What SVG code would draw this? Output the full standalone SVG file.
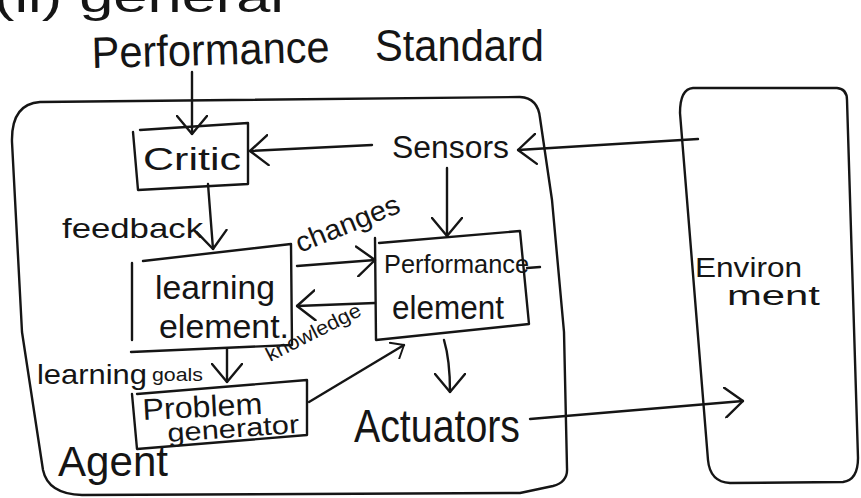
<svg xmlns="http://www.w3.org/2000/svg" width="861" height="498" viewBox="0 0 861 498">
  <style>
    .ink { fill: none; stroke: #151515; stroke-width: 2.4; stroke-linecap: round; stroke-linejoin: round; }
    .hw { font-family: "Liberation Sans", "DejaVu Sans", sans-serif; fill: #151515; }
  </style>
  <defs>
    <marker id="ah" viewBox="0 0 20 32" refX="19" refY="16" markerWidth="20" markerHeight="32" markerUnits="userSpaceOnUse" orient="auto">
      <path d="M1,1 L19,16 L1,31" fill="none" stroke="#151515" stroke-width="2.4" stroke-linecap="round" stroke-linejoin="round"/>
    </marker>
    <marker id="ah-s" viewBox="0 0 20 32" refX="19" refY="16" markerWidth="13" markerHeight="20" markerUnits="userSpaceOnUse" orient="auto">
      <path d="M1,1 L19,16 L1,31" fill="none" stroke="#151515" stroke-width="3" stroke-linecap="round" stroke-linejoin="round"/>
    </marker>
  </defs>
  <rect width="861" height="498" fill="#ffffff"/>

  <!-- heading, partly cut at the top edge -->
  <text class="hw" x="-6" y="12" font-size="42" textLength="290" lengthAdjust="spacingAndGlyphs">(ii) general</text>

  <g id="performance-standard">
    <text class="hw" x="92" y="68" font-size="44" textLength="238" lengthAdjust="spacingAndGlyphs" transform="rotate(-1.5 92 68)">Performance</text>
    <text class="hw" x="375" y="61" font-size="44" textLength="169" lengthAdjust="spacingAndGlyphs">Standard</text>
  </g>

  <g id="agent">
    <path class="ink" d="M40,102 L520,97 Q538,98 540,118 L552,200 L564,332 L567,468 Q568,482 553,486 L520,493 L82,495 Q48,494 43,470 L22,332 L12,142 Q11,104 40,102 Z"/>
    <text class="hw" x="58" y="476" font-size="42" textLength="110" lengthAdjust="spacingAndGlyphs">Agent</text>
  </g>

  <g id="environment">
    <path class="ink" d="M693,88 L837,88 Q847,89 847,100 L858,458 Q858,480 843,482 L730,483 Q710,482 708,460 L680,113 Q680,89 693,88 Z"/>
    <text class="hw" x="695" y="277" font-size="27" textLength="107" lengthAdjust="spacingAndGlyphs">Environ</text>
    <text class="hw" x="727" y="305" font-size="27" textLength="93" lengthAdjust="spacingAndGlyphs">ment</text>
  </g>

  <g id="critic">
    <path class="ink" d="M140,130 L248,123 L248,184 L138,190 L133,132"/>
    <text class="hw" x="143" y="170" font-size="32" textLength="98" lengthAdjust="spacingAndGlyphs">Critic</text>
  </g>

  <g id="sensors">
    <text class="hw" x="392" y="158" font-size="31" textLength="117" lengthAdjust="spacingAndGlyphs">Sensors</text>
  </g>

  <g id="learning-element">
    <path class="ink" d="M143,261 L291,244 L292,345 L131,352"/>
    <path class="ink" d="M132,263 L132,340"/>
    <text class="hw" x="155" y="299" font-size="34" textLength="120" lengthAdjust="spacingAndGlyphs">learning</text>
    <text class="hw" x="159" y="338" font-size="34" textLength="130" lengthAdjust="spacingAndGlyphs">element.</text>
  </g>

  <g id="performance-element">
    <path class="ink" d="M379,243 L520,231 L529,324 L376,340 L375,238"/>
    <text class="hw" x="384" y="273" font-size="26" textLength="145" lengthAdjust="spacingAndGlyphs">Performance</text>
    <path class="ink" d="M527,268 L540,267"/>
    <text class="hw" x="392" y="319" font-size="33" textLength="112" lengthAdjust="spacingAndGlyphs">element</text>
  </g>

  <g id="problem-generator">
    <path class="ink" d="M137,394 L307,380 L307,435 L137,449 L132,394"/>
    <text class="hw" x="143" y="420" font-size="30" textLength="120" lengthAdjust="spacingAndGlyphs" transform="rotate(-3 143 420)">Problem</text>
    <text class="hw" x="168" y="442" font-size="26" textLength="132" lengthAdjust="spacingAndGlyphs" transform="rotate(-4 168 442)">generator</text>
  </g>

  <g id="actuators">
    <text class="hw" x="354" y="442" font-size="46" textLength="166" lengthAdjust="spacingAndGlyphs">Actuators</text>
  </g>

  <g id="connectors">
    <path class="ink" d="M192,72 L192,134" marker-end="url(#ah)"/>
    <path class="ink" d="M372,145 L250,151" marker-end="url(#ah)"/>
    <path class="ink" d="M698,139 L518,150" marker-end="url(#ah)"/>
    <path class="ink" d="M447,168 L447,236" marker-end="url(#ah)"/>
    <path class="ink" d="M208,184 L213,249" marker-end="url(#ah)"/>
    <path class="ink" d="M297,266 L375,260" marker-end="url(#ah)"/>
    <path class="ink" d="M375,303 L297,306" marker-end="url(#ah)"/>
    <path class="ink" d="M227,349 L227,382" marker-end="url(#ah)"/>
    <path class="ink" d="M309,402 L404,345" marker-end="url(#ah-s)"/>
    <path class="ink" d="M444,340 Q450,360 450,392" marker-end="url(#ah)"/>
    <path class="ink" d="M530,419 L743,401" marker-end="url(#ah)"/>
    <text class="hw" x="62" y="238" font-size="28" textLength="141" lengthAdjust="spacingAndGlyphs">feedback</text>
    <text class="hw" x="300" y="253" font-size="28" textLength="110" lengthAdjust="spacingAndGlyphs" transform="rotate(-22 300 253)">changes</text>
    <text class="hw" x="270" y="362" font-size="20" textLength="104" lengthAdjust="spacingAndGlyphs" transform="rotate(-27 270 362)">knowledge</text>
    <text class="hw" x="37" y="384" font-size="28" textLength="110" lengthAdjust="spacingAndGlyphs">learning</text>
    <text class="hw" x="152" y="381" font-size="18" textLength="51" lengthAdjust="spacingAndGlyphs">goals</text>
  </g>
</svg>
